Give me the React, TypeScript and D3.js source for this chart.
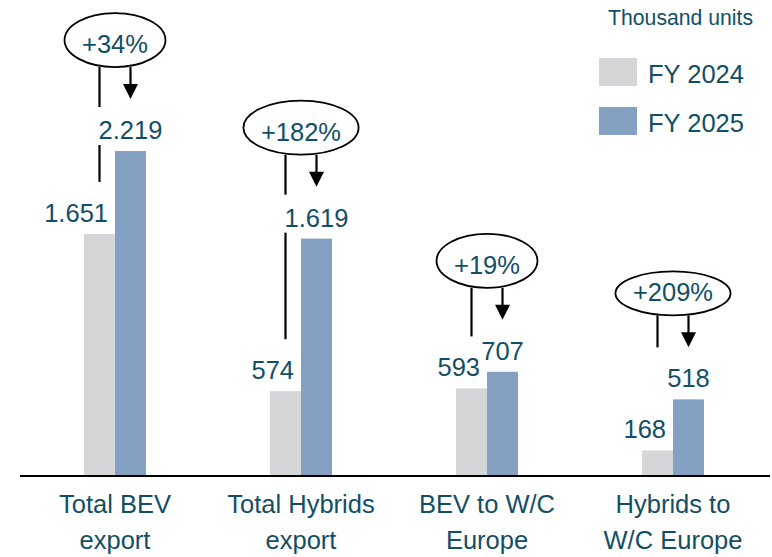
import React, { useRef, useEffect } from 'react';
import * as d3 from 'd3';

const categories = ['Total BEV export', 'Total Hybrids export', 'BEV to W/C Europe', 'Hybrids to W/C Europe'];
const categoryLines = [['Total BEV', 'export'], ['Total Hybrids', 'export'], ['BEV to W/C', 'Europe'], ['Hybrids to', 'W/C Europe']];
const fy2024 = [1651, 574, 593, 168];
const fy2025 = [2219, 1619, 707, 518];
const fy2024Labels = ['1.651', '574', '593', '168'];
const fy2025Labels = ['2.219', '1.619', '707', '518'];
const growth = ['+34%', '+182%', '+19%', '+209%'];
const seriesNames = ['FY 2024', 'FY 2025'];
const unitLabel = 'Thousand units';

const W = 772;
const H = 557;
const TEAL = '#124f66';
const GREY = '#d5d6d8';
const BLUE = '#84a0c2';
const FONT = '"Liberation Sans", Arial, sans-serif';
const FS = 25.5;

const App = () => {
    const svgRef = useRef<SVGSVGElement>(null);

    useEffect(() => {
        const svg = d3.select(svgRef.current);
        svg.selectAll('*').remove();

        const baseY = 475;
        const x0 = d3.scaleBand().domain(categories).range([22, 766]).padding(0);
        const x1 = d3.scaleBand().domain(seriesNames).range([0, x0.bandwidth()]).paddingInner(0).paddingOuter(2);
        const y = d3.scaleLinear().domain([0, 2400]).range([baseY, baseY - 2400 * 0.146]);

        const rows = categories.map((c, i) => ({
            cat: c,
            vals: [
                { key: seriesNames[0], value: fy2024[i], label: fy2024Labels[i] },
                { key: seriesNames[1], value: fy2025[i], label: fy2025Labels[i] },
            ],
        }));

        // bars
        svg.append('g')
            .selectAll('g')
            .data(rows)
            .join('g')
            .attr('transform', d => `translate(${x0(d.cat)},0)`)
            .selectAll('rect')
            .data(d => d.vals)
            .join('rect')
            .attr('x', d => x1(d.key)!)
            .attr('y', d => y(d.value))
            .attr('width', x1.bandwidth())
            .attr('height', d => baseY - y(d.value))
            .attr('fill', (d, j) => (j === 0 ? GREY : BLUE));

        // baseline
        svg.append('line')
            .attr('x1', 20).attr('x2', 770)
            .attr('y1', baseY + 1).attr('y2', baseY + 1)
            .attr('stroke', '#000').attr('stroke-width', 2.2);

        const ann = svg.append('g');

        rows.forEach((r, i) => {
            const gx = x0(r.cat)!;
            const cx24 = gx + x1(seriesNames[0])! + x1.bandwidth() / 2;
            const cx25 = gx + x1(seriesNames[1])! + x1.bandwidth() / 2;
            const right24 = gx + x1(seriesNames[0])! + x1.bandwidth();
            const base24 = y(fy2024[i]) - 12;
            const base25 = y(fy2025[i]) - 12;
            const tip = base25 - 40;
            const ellBottom = tip - 32;
            const leftEnd = i === rows.length - 1 ? tip : base24 - 40;

            // left bracket line
            ann.append('line')
                .attr('x1', cx24).attr('x2', cx24)
                .attr('y1', ellBottom).attr('y2', leftEnd)
                .attr('stroke', '#000').attr('stroke-width', 2.2);

            // arrow
            ann.append('line')
                .attr('x1', cx25).attr('x2', cx25)
                .attr('y1', ellBottom).attr('y2', tip - 14)
                .attr('stroke', '#000').attr('stroke-width', 2.2);
            ann.append('path')
                .attr('d', `M${cx25 - 7.5},${tip - 15}L${cx25 + 7.5},${tip - 15}L${cx25},${tip}Z`)
                .attr('fill', '#000');

            // FY2024 value label
            ann.append('text')
                .attr('x', right24 - 7)
                .attr('y', base24)
                .attr('text-anchor', 'end')
                .attr('font-family', FONT)
                .attr('font-size', FS)
                .attr('fill', TEAL)
                .text(fy2024Labels[i]);

            // FY2025 value label, with white backing that cuts the bracket line
            const bg = ann.append('rect').attr('fill', '#fff');
            const t25 = ann.append('text')
                .attr('x', cx25)
                .attr('y', base25)
                .attr('text-anchor', 'middle')
                .attr('font-family', FONT)
                .attr('font-size', FS)
                .attr('fill', TEAL)
                .text(fy2025Labels[i]);
            const bb = (t25.node() as SVGTextElement).getBBox();
            bg.attr('x', bb.x - 3).attr('width', bb.width + 6)
                .attr('y', base25 - 32).attr('height', 38);

            // growth ellipse
            const gxC = gx + x0.bandwidth() / 2;
            const ry = i === rows.length - 1 ? 22 : 27;
            const ell = ann.append('ellipse')
                .attr('cx', gxC)
                .attr('cy', ellBottom - ry)
                .attr('ry', ry)
                .attr('fill', '#fff')
                .attr('stroke', '#000')
                .attr('stroke-width', 1.8);
            const pt = ann.append('text')
                .attr('x', gxC)
                .attr('y', ellBottom - 14)
                .attr('text-anchor', 'middle')
                .attr('font-family', FONT)
                .attr('font-size', FS)
                .attr('fill', TEAL)
                .text(growth[i]);
            const tw = (pt.node() as SVGTextElement).getComputedTextLength();
            ell.attr('rx', tw / 2 + 17.5);

            // category labels
            categoryLines[i].forEach((line, k) => {
                svg.append('text')
                    .attr('x', gxC)
                    .attr('y', 513 + k * 36)
                    .attr('text-anchor', 'middle')
                    .attr('font-family', FONT)
                    .attr('font-size', FS)
                    .attr('fill', TEAL)
                    .text(line);
            });
        });

        // unit + legend
        svg.append('text')
            .attr('x', 753).attr('y', 25)
            .attr('text-anchor', 'end')
            .attr('font-family', FONT)
            .attr('font-size', 21.2)
            .attr('fill', TEAL)
            .text(unitLabel);

        const legend = svg.append('g').attr('transform', 'translate(599,58)');
        seriesNames.forEach((s, j) => {
            legend.append('rect')
                .attr('x', 0).attr('y', j * 49)
                .attr('width', 38).attr('height', 28)
                .attr('fill', j === 0 ? GREY : BLUE);
            legend.append('text')
                .attr('x', 49).attr('y', j * 49 + 25)
                .attr('font-family', FONT)
                .attr('font-size', FS)
                .attr('fill', TEAL)
                .text(s);
        });
    }, []);

    return (
        <svg ref={svgRef} width={W} height={H}
            style={{ position: 'absolute', left: 0, top: 0, background: '#fff' }} />
    );
};

export default App;
